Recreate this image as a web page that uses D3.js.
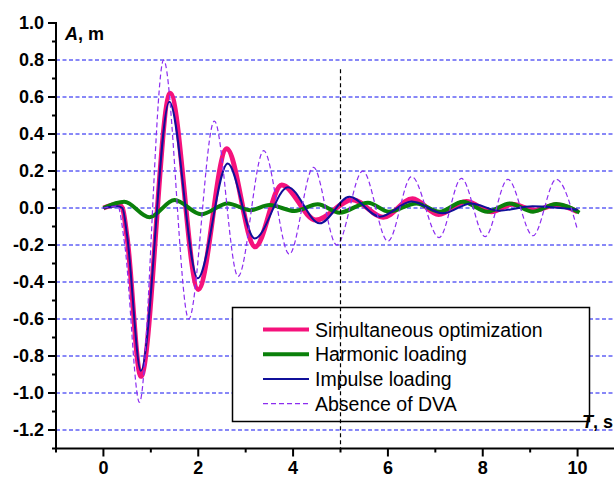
<!DOCTYPE html>
<html>
<head>
<meta charset="UTF-8">
<script src="https://d3js.org/d3.v7.min.js"></script>
<style>
body { margin: 0; background: #fff; }
text { font-family: "Liberation Sans", Arial, sans-serif; }
</style>
</head>
<body>
<svg width="614" height="478"></svg>
<script>

// series, [T (s), A (m)]
var optimization = [[0,0],[0.3,0.02],[0.4,0.0],[0.5,-0.16],[0.79,-0.91],[1.41,0.62],[2.0,-0.44],[2.6,0.32],
  [3.2,-0.21],[3.76,0.125],[4.48,-0.065],[5.25,0.045],[5.9,-0.05],[6.52,0.05],[7.07,-0.035],[7.65,0.035],
  [8.18,-0.02],[8.62,0.02],[9.1,-0.012],[9.55,0.018],[10,-0.02]];
var harmonic = [[0,0],[0.44,0.034],[0.97,-0.05],[1.5,0.043],[2.06,-0.034],[2.62,0.025],[3.1,-0.012],
  [3.5,0.016],[4.03,-0.016],[4.52,0.02],[4.98,-0.025],[5.58,0.029],[6.02,-0.02],[6.6,0.025],[7.09,-0.02],
  [7.58,0.034],[8.1,-0.02],[8.57,0.025],[9.06,-0.02],[9.55,0.022],[10.04,-0.025]];
var impulse = [[0,0],[0.3,0.01],[0.4,0.0],[0.5,-0.15],[0.79,-0.88],[1.39,0.575],[1.99,-0.38],[2.62,0.24],
  [3.19,-0.165],[3.89,0.112],[4.56,-0.083],[5.19,0.061],[5.83,-0.047],[6.5,0.035],[7.16,-0.029],
  [7.75,0.025],[8.35,-0.015],[9.05,0.01],[10,-0.01]];
var absence = [[0,0],[0.3,0.01],[0.45,-0.2],[0.76,-1.05],[1.27,0.80],[1.80,-0.60],[2.34,0.47],[2.84,-0.37],
  [3.38,0.31],[3.92,-0.25],[4.43,0.22],[4.92,-0.20],[5.47,0.20],[6.0,-0.18],[6.5,0.17],[7.08,-0.16],
  [7.55,0.16],[8.05,-0.155],[8.53,0.155],[9.06,-0.15],[9.55,0.155],[10.0,-0.12]];

var legendNames = ["Simultaneous optimization", "Harmonic loading", "Impulse loading", "Absence of DVA"];
var yTicks = [-1.2, -1.0, -0.8, -0.6, -0.4, -0.2, 0.0, 0.2, 0.4, 0.6, 0.8, 1.0];
var yGrid = [-1.2, -1.0, -0.8, -0.6, -0.4, -0.2, 0.0, 0.2, 0.4, 0.6, 0.8];
var xTicks = [0, 2, 4, 6, 8, 10];
var markerT = 5;

var svg = d3.select("svg"),
    width = +svg.attr("width");

var x = d3.scaleLinear().domain([-1, 11]).range([56, 625]);
var y = d3.scaleLinear().domain([-1.3, 1.0]).range([448.5, 23]);

// grid
svg.append("g").selectAll("line")
  .data(yGrid)
  .enter().append("line")
    .attr("x1", x(-1)).attr("x2", width)
    .attr("y1", function(d) { return y(d); })
    .attr("y2", function(d) { return y(d); })
    .attr("stroke", "#1010f0")
    .attr("stroke-width", 1)
    .attr("stroke-dasharray", "4,2.5");

var line = d3.line()
    .x(function(d) { return x(d[0]); })
    .y(function(d) { return y(d[1]); })
    .curve(d3.curveMonotoneX);

var series = [
  {data: optimization, color: "#f5127c", w: 5, dash: null},
  {data: harmonic, color: "#0a800a", w: 4, dash: null},
  {data: impulse, color: "#10109a", w: 2, dash: null},
  {data: absence, color: "#8c2cf0", w: 1.2, dash: "5,3"}
];

svg.append("g").selectAll("path")
  .data(series)
  .enter().append("path")
    .attr("d", function(d) { return line(d.data); })
    .attr("fill", "none")
    .attr("stroke", function(d) { return d.color; })
    .attr("stroke-width", function(d) { return d.w; })
    .attr("stroke-dasharray", function(d) { return d.dash; })
    .attr("stroke-linejoin", "round");

// legend
var legend = svg.append("g");
legend.append("rect")
    .attr("x", 232.5).attr("y", 307.5)
    .attr("width", 357).attr("height", 114)
    .attr("fill", "#fff")
    .attr("stroke", "#000")
    .attr("stroke-width", 1.5);

var rows = legend.selectAll("g.row")
  .data(series)
  .enter().append("g")
    .attr("class", "row")
    .attr("transform", function(d, i) { return "translate(0," + (329.5 + i * 24.7) + ")"; });

rows.append("line")
    .attr("x1", 263).attr("x2", 309)
    .attr("stroke", function(d) { return d.color; })
    .attr("stroke-width", function(d) { return Math.min(d.w, 4); })
    .attr("stroke-dasharray", function(d) { return d.dash; });

rows.append("text")
    .attr("x", 315)
    .attr("y", 7)
    .attr("font-size", "19.5px")
    .attr("fill", "#000")
    .text(function(d, i) { return legendNames[i]; });

// dashed marker at T = 5
svg.append("line")
    .attr("x1", x(markerT)).attr("x2", x(markerT))
    .attr("y1", y(0.75)).attr("y2", y(-1.3))
    .attr("stroke", "#000")
    .attr("stroke-width", 1.2)
    .attr("stroke-dasharray", "4,3");

// y axis
var yAxis = svg.append("g");
yAxis.append("line")
    .attr("x1", x(-1)).attr("x2", x(-1))
    .attr("y1", y(1.0) - 1).attr("y2", y(-1.3) + 1)
    .attr("stroke", "#000").attr("stroke-width", 2);
yAxis.selectAll("line.minor")
  .data(d3.range(-13, 10, 2).map(function(v) { return v / 10; }))
  .enter().append("line")
    .attr("x1", x(-1) - 4).attr("x2", x(-1))
    .attr("y1", function(d) { return y(d); })
    .attr("y2", function(d) { return y(d); })
    .attr("stroke", "#000").attr("stroke-width", 2);
yAxis.selectAll("line.major")
  .data(yTicks)
  .enter().append("line")
    .attr("x1", x(-1) - 8).attr("x2", x(-1))
    .attr("y1", function(d) { return y(d); })
    .attr("y2", function(d) { return y(d); })
    .attr("stroke", "#000").attr("stroke-width", 2);
yAxis.selectAll("text")
  .data(yTicks)
  .enter().append("text")
    .attr("x", 44)
    .attr("y", function(d) { return y(d); })
    .attr("dy", "0.36em")
    .attr("text-anchor", "end")
    .attr("font-size", "18px")
    .attr("font-weight", "bold")
    .text(function(d) { return d3.format(".1f")(d).replace("−", "-"); });

// x axis
var xAxis = svg.append("g");
xAxis.append("line")
    .attr("x1", x(-1) - 1).attr("x2", width)
    .attr("y1", y(-1.3)).attr("y2", y(-1.3))
    .attr("stroke", "#000").attr("stroke-width", 2);
xAxis.selectAll("line.minor")
  .data([-1, 1, 3, 5, 7, 9])
  .enter().append("line")
    .attr("x1", function(d) { return x(d); })
    .attr("x2", function(d) { return x(d); })
    .attr("y1", y(-1.3)).attr("y2", y(-1.3) + 4)
    .attr("stroke", "#000").attr("stroke-width", 2);
xAxis.selectAll("line.major")
  .data(xTicks)
  .enter().append("line")
    .attr("x1", function(d) { return x(d); })
    .attr("x2", function(d) { return x(d); })
    .attr("y1", y(-1.3)).attr("y2", y(-1.3) + 8)
    .attr("stroke", "#000").attr("stroke-width", 2);
xAxis.selectAll("text")
  .data(xTicks)
  .enter().append("text")
    .attr("x", function(d) { return x(d); })
    .attr("y", 474)
    .attr("text-anchor", "middle")
    .attr("font-size", "18px")
    .attr("font-weight", "bold")
    .text(function(d) { return d; });

// axis titles
var yTitle = svg.append("text")
    .attr("x", 65).attr("y", 40)
    .attr("font-size", "18px")
    .attr("font-weight", "bold");
yTitle.append("tspan").attr("font-style", "italic").text("A");
yTitle.append("tspan").text(", m");

var xTitle = svg.append("text")
    .attr("x", 582).attr("y", 428)
    .attr("font-size", "18px")
    .attr("font-weight", "bold");
xTitle.append("tspan").attr("font-style", "italic").text("T");
xTitle.append("tspan").text(", s");

</script>
</body>
</html>
